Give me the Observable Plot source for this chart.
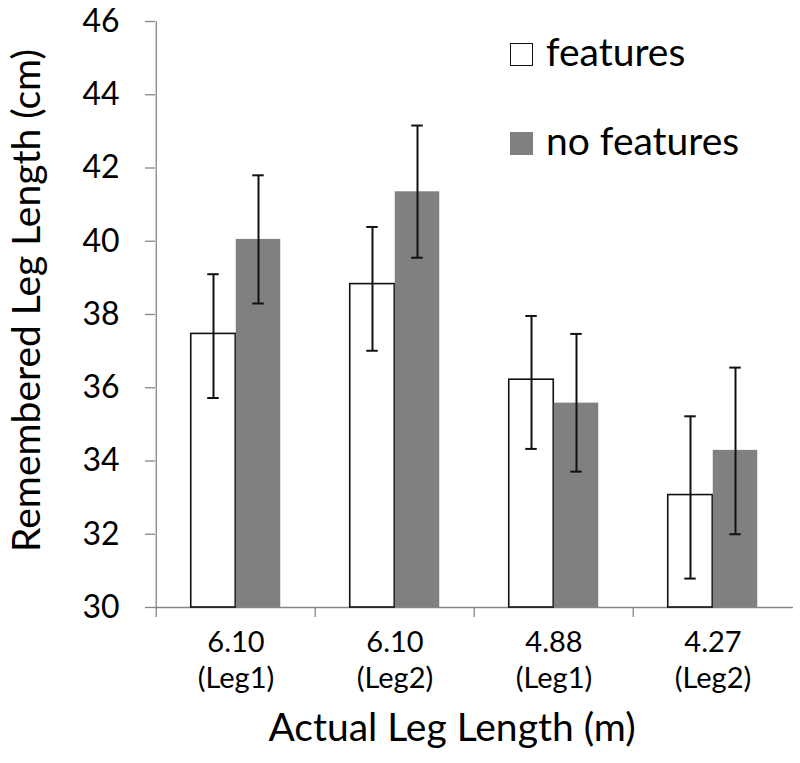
<!DOCTYPE html>
<html>
<head>
<meta charset="utf-8">
<script src="https://cdn.jsdelivr.net/npm/d3@7"></script>
<script src="https://cdn.jsdelivr.net/npm/@observablehq/plot@0.6"></script>
<style>
  html, body { margin: 0; padding: 0; background: #fff; }
  #wrap { position: relative; width: 800px; height: 763px; font-family: Lato, "Open Sans", sans-serif; color: #000; }
  .abs { position: absolute; white-space: nowrap; line-height: 1; }
</style>
</head>
<body>
<div id="wrap"></div>
<script>
// ---- data ----
const categories = ["6.10\n(Leg1)", "6.10\n(Leg2)", "4.88\n(Leg1)", "4.27\n(Leg2)"];
const series = ["features", "no features"];
const featuresMean = [37.47, 38.83, 36.22, 33.07];
const featuresLow  = [35.72, 37.01, 34.33, 30.79];
const featuresHigh = [39.10, 40.39, 37.96, 35.22];
const noFeaturesMean = [40.05, 41.35, 35.58, 34.29];
const noFeaturesLow  = [38.30, 39.55, 33.71, 32.00];
const noFeaturesHigh = [41.80, 43.16, 37.47, 36.55];
const yTicks = [30, 32, 34, 36, 38, 40, 42, 44, 46];
const xTitle = "Actual Leg Length (m)";
const yTitle = "Remembered Leg Length (cm)";

// ---- build tidy table ----
const rows = [];
categories.forEach((c, i) => {
  rows.push({cat: c, series: series[0], mean: featuresMean[i], lo: featuresLow[i], hi: featuresHigh[i]});
  rows.push({cat: c, series: series[1], mean: noFeaturesMean[i], lo: noFeaturesLow[i], hi: noFeaturesHigh[i]});
});
const feat = rows.filter(d => d.series === series[0]);
const nofeat = rows.filter(d => d.series === series[1]);

// ---- layout ----
const W = 800, H = 763;
const mL = 155, mR = 7, mT = 21, mB = 156;
const B = (W - mL - mR) / categories.length; // band width
const barW = 45, capW = 12;
const outer = (B - 2 * barW) / 2;
const axisGray = "#868686";
const barGray = "#808080";

const chart = Plot.plot({
  width: W,
  height: H,
  marginLeft: mL,
  marginRight: mR,
  marginTop: mT,
  marginBottom: mB,
  style: {fontFamily: "Lato, 'Open Sans', sans-serif", color: "#000", background: "#fff"},
  x: {type: "band", domain: categories, padding: 0},
  y: {domain: [30, 46]},
  marks: [
    // axis lines
    Plot.ruleY([30], {stroke: axisGray, strokeWidth: 1.3}),
    Plot.ruleX([categories[0]], {x: d => d, y1: 30, y2: 46, dx: -B / 2, stroke: axisGray, strokeWidth: 1.3}),
    Plot.axisY({ticks: yTicks, tickSize: 10, tickPadding: 26, fontSize: 32, stroke: axisGray, strokeWidth: 1.3, label: null}),
    // boundary ticks on x
    Plot.axisX({tickSize: 10, tickFormat: () => "", dx: -B / 2, stroke: axisGray, strokeWidth: 1.3, label: null}),
    // x labels
    Plot.axisX({tickSize: 0, tickPadding: 19, fontSize: 29, lineHeight: 1.25, label: null}),
    // bars
    Plot.rectY(feat, {x: "cat", y1: 30, y2: "mean", insetLeft: outer, insetRight: B - outer - barW,
      fill: "#fff", stroke: "#111", strokeWidth: 1.6}),
    Plot.rectY(nofeat, {x: "cat", y1: 30, y2: "mean", insetLeft: B - outer - barW, insetRight: outer,
      fill: barGray}),
    // error bars
    Plot.ruleX(feat, {x: "cat", y1: "lo", y2: "hi", dx: -barW / 2, stroke: "#111", strokeWidth: 2}),
    Plot.tickY(feat, {x: "cat", y: "lo", dx: -barW / 2, insetLeft: (B - capW) / 2, insetRight: (B - capW) / 2, stroke: "#111", strokeWidth: 2}),
    Plot.tickY(feat, {x: "cat", y: "hi", dx: -barW / 2, insetLeft: (B - capW) / 2, insetRight: (B - capW) / 2, stroke: "#111", strokeWidth: 2}),
    Plot.ruleX(nofeat, {x: "cat", y1: "lo", y2: "hi", dx: barW / 2, stroke: "#111", strokeWidth: 2}),
    Plot.tickY(nofeat, {x: "cat", y: "lo", dx: barW / 2, insetLeft: (B - capW) / 2, insetRight: (B - capW) / 2, stroke: "#111", strokeWidth: 2}),
    Plot.tickY(nofeat, {x: "cat", y: "hi", dx: barW / 2, insetLeft: (B - capW) / 2, insetRight: (B - capW) / 2, stroke: "#111", strokeWidth: 2})
  ]
});

const wrap = document.getElementById("wrap");
wrap.appendChild(chart);

// ---- axis titles (HTML overlay) ----
const xt = document.createElement("div");
xt.className = "abs";
xt.textContent = xTitle;
Object.assign(xt.style, {left: "0px", width: "904px", textAlign: "center", top: "707px", fontSize: "39px"});
wrap.appendChild(xt);

const yt = document.createElement("div");
yt.className = "abs";
yt.textContent = yTitle;
Object.assign(yt.style, {left: (25 - 300) + "px", top: (300 - 19.5) + "px", width: "600px", height: "39px",
  textAlign: "center", fontSize: "39px", transform: "rotate(-90deg)", transformOrigin: "50% 50%"});
wrap.appendChild(yt);

// ---- legend (HTML overlay) ----
const legendColors = ["#fff", barGray];
const legendTops = [43, 132];
series.forEach((s, i) => {
  const sw = document.createElement("div");
  sw.className = "abs";
  Object.assign(sw.style, {left: "510px", top: legendTops[i] + "px", width: "23px", height: "23px",
    boxSizing: "border-box", background: legendColors[i], border: i === 0 ? "1.5px solid #111" : "none"});
  wrap.appendChild(sw);
  const tx = document.createElement("div");
  tx.className = "abs";
  tx.textContent = s;
  Object.assign(tx.style, {left: "546px", top: (legendTops[i] - 11) + "px", fontSize: "39px"});
  wrap.appendChild(tx);
});
</script>
</body>
</html>
